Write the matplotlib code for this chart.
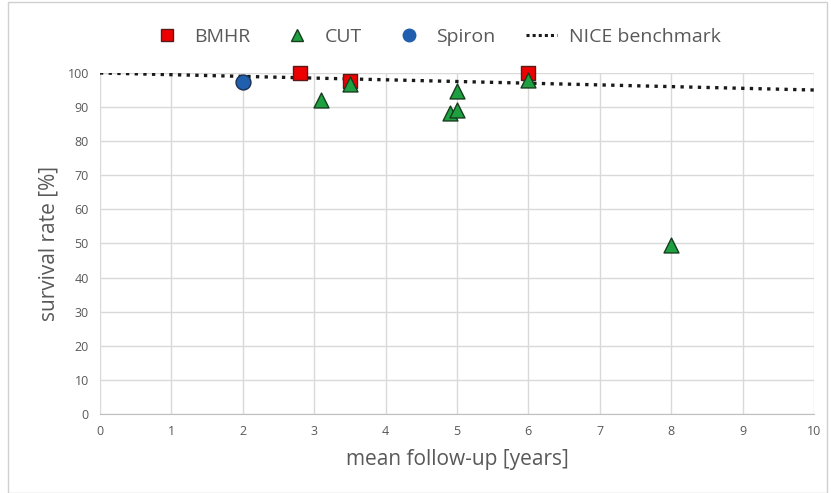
import numpy as np
import matplotlib.pyplot as plt
from matplotlib.lines import Line2D

plt.rcParams['font.family'] = ['Open Sans', 'DejaVu Sans']

# Data
bmhr_x = [2.8, 3.5, 6.0]
bmhr_y = [100, 97.6, 100]
cut_x = [3.1, 3.5, 4.9, 5.0, 5.0, 6.0, 8.0]
cut_y = [92, 96.8, 88.3, 89, 94.6, 97.8, 49.5]
spiron_x = [2.0]
spiron_y = [97.3]
nice_x = [0, 10]
nice_y = [100, 95]

txt = '#595959'
fig = plt.figure(figsize=(8.31, 4.93), dpi=100)
ax = fig.add_axes([0.1203, 0.1602, 0.8592, 0.6918])

ax.plot(nice_x, nice_y, ls=(0, (1, 1.6)), lw=2.4, color='#1a1a1a', zorder=2)
ax.scatter(bmhr_x, bmhr_y, marker='s', s=105, c='#ee0000', edgecolors='#5a1a1a', linewidths=1, zorder=3, clip_on=False)
ax.scatter(cut_x, cut_y, marker='^', s=115, c='#1ea040', edgecolors='#163d1e', linewidths=1, zorder=4, clip_on=False)
ax.scatter(spiron_x, spiron_y, marker='o', s=115, c='#1f5fad', edgecolors='#1b3050', linewidths=1, zorder=3, clip_on=False)

ax.set_xlim(0, 10)
ax.set_ylim(0, 100)
ax.set_xticks(range(0, 11))
ax.set_yticks(range(0, 101, 10))
ax.grid(True, color='#d9d9d9', lw=1)
ax.set_axisbelow(True)
for s in ['top', 'right', 'left']:
    ax.spines[s].set_visible(False)
ax.spines['bottom'].set_color('#bfbfbf')
ax.tick_params(length=0, labelsize=9, colors=txt, pad=8)
ax.set_xlabel('mean follow-up [years]', fontsize=15, color=txt, labelpad=8)
ax.set_ylabel('survival rate [%]', fontsize=15, color=txt, labelpad=6)

handles = [
    Line2D([], [], marker='s', ls='none', ms=9, mfc='#ee0000', mec='#5a1a1a', label='BMHR'),
    Line2D([], [], marker='^', ls='none', ms=9, mfc='#1ea040', mec='#163d1e', label='CUT'),
    Line2D([], [], marker='o', ls='none', ms=9, mfc='#1f5fad', mec='#1f5fad', label='Spiron'),
    Line2D([], [], ls=(0, (1, 1.0)), lw=2.2, color='#1a1a1a', label='NICE benchmark'),
]
leg = fig.legend(handles=handles, loc='center', bbox_to_anchor=(0.525, 0.925), ncol=4,
                 frameon=False, fontsize=14, handlelength=1.6, columnspacing=1.6, handletextpad=0.6)
for t in leg.get_texts():
    t.set_color(txt)

fig.patches.append(plt.Rectangle((0.01, 0.0), 0.985, 0.995, transform=fig.transFigure,
                                 fill=False, ec='#d0d0d0', lw=1))

fig.savefig('out.png', dpi=100)
